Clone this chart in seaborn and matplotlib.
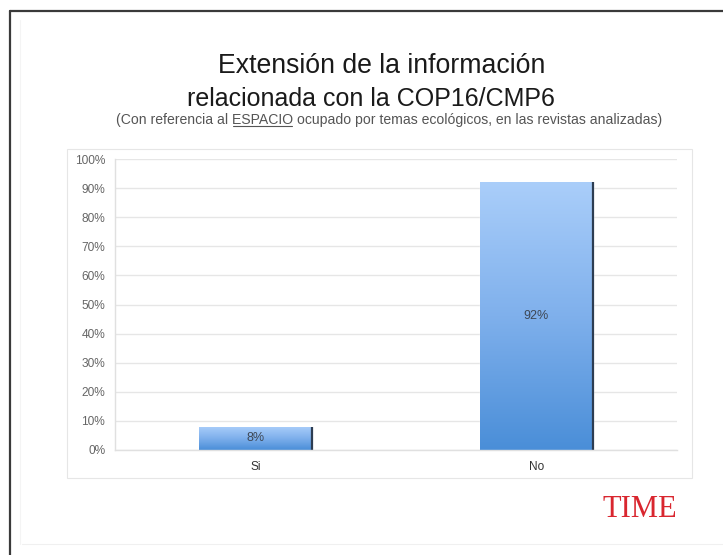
import numpy as np
import pandas as pd
import seaborn as sns
import matplotlib.pyplot as plt
from matplotlib.colors import LinearSegmentedColormap
from matplotlib.lines import Line2D
from matplotlib.patches import Rectangle

# ---- data ----
categories = ["Si", "No"]
values = [8, 92]
value_labels = ["8%", "92%"]
yticks = [0, 10, 20, 30, 40, 50, 60, 70, 80, 90, 100]
ytick_labels = [f"{t}%" for t in yticks]
title_line1 = "Extensión de la información"
title_line2 = "relacionada con la COP16/CMP6"
sub_pre = "(Con referencia al "
sub_mid = "ESPACIO"
sub_post = " ocupado por temas ecológicos, en las revistas analizadas)"
brand = "TIME"

sns.set_theme(style="white")
plt.rcParams['font.family'] = ['Liberation Sans', 'DejaVu Sans']

W, H = 723, 555
fig = plt.figure(figsize=(W / 100, H / 100), dpi=100)
fig.patch.set_facecolor("white")

# slide frame
fig.add_artist(Line2D([10 / W, 1], [1 - 11 / H, 1 - 11 / H], transform=fig.transFigure,
                      color="#3a3a3a", lw=1.6))
fig.add_artist(Line2D([10 / W, 10 / W], [0, 1 - 11 / H], transform=fig.transFigure,
                      color="#3a3a3a", lw=1.6))
fig.add_artist(Line2D([22 / W, 1], [1 - 544 / H, 1 - 544 / H], transform=fig.transFigure,
                      color="#f0f0f0", lw=0.8))
fig.add_artist(Line2D([20 / W, 20 / W], [1 - 544 / H, 1 - 20 / H], transform=fig.transFigure,
                      color="#f4f4f4", lw=0.8))

# chart box
fig.add_artist(Rectangle((67 / W, 1 - 478 / H), 625 / W, 329 / H, transform=fig.transFigure,
                         fill=False, edgecolor="#e6e6e6", lw=0.8))

ax = fig.add_axes([115 / W, 1 - 450 / H, 562 / W, 291 / H])
df = pd.DataFrame({"cat": categories, "val": values})
sns.barplot(data=df, x="cat", y="val", ax=ax, width=0.40, color="#6fa6e6",
            saturation=1, zorder=2)
ax.set_facecolor("white")

cmap = LinearSegmentedColormap.from_list("g", ["#4a8ed8", "#7fb0ec", "#aacefa"])
grad = np.linspace(0, 1, 256).reshape(-1, 1)
for p in ax.patches:
    x0, y0 = p.get_x(), p.get_y()
    w, h = p.get_width(), p.get_height()
    im = ax.imshow(grad, extent=[x0, x0 + w, y0, y0 + h], origin="lower", cmap=cmap,
                   aspect="auto", zorder=2.1, interpolation="bicubic")
    im.set_clip_path(p)
    ax.vlines(x0 + w, y0, y0 + h, color="#2d3d52", lw=1.6, zorder=2.2)

for c in ax.containers:
    ax.bar_label(c, labels=value_labels, label_type="center", color="#3e4856",
                 fontsize=9, zorder=3)

ax.set_xlim(-0.5, 1.5)
ax.set_ylim(0, 100)
ax.set_yticks(yticks)
ax.set_yticklabels(ytick_labels)
ax.set_xlabel("")
ax.set_ylabel("")
ax.yaxis.grid(True, color="#e6e6e6", lw=1)
ax.set_axisbelow(True)
for s in ["top", "right"]:
    ax.spines[s].set_visible(False)
for s in ["left", "bottom"]:
    ax.spines[s].set_color("#e0e0e0")
    ax.spines[s].set_linewidth(1)
ax.tick_params(axis="y", length=0, pad=7, labelsize=8.6, labelcolor="#666666")
ax.tick_params(axis="x", length=0, pad=8, labelsize=8.6, labelcolor="#333333")

# titles
fig.text(382 / W, 1 - 73 / H, title_line1, ha="center", va="baseline", fontsize=19.2,
         color="#1a1a1a")
fig.text(371 / W, 1 - 106 / H, title_line2, ha="center", va="baseline", fontsize=18,
         color="#1a1a1a")

sub_fs = 10.1
sub_y = 1 - 124 / H
full = fig.text(389 / W, sub_y, sub_pre + sub_mid + sub_post, ha="center", va="baseline",
                fontsize=sub_fs, color="#555555")
fig.canvas.draw()
r = fig.canvas.get_renderer()
bb = full.get_window_extent(r)
t_pre = fig.text(0, 0, sub_pre, fontsize=sub_fs)
t_mid = fig.text(0, 0, sub_pre + sub_mid, fontsize=sub_fs)
w_pre = t_pre.get_window_extent(r).width
w_mid = t_mid.get_window_extent(r).width
t_pre.remove()
t_mid.remove()
ux0 = (bb.x0 + w_pre + 1) / W
ux1 = (bb.x0 + w_mid - 1) / W
uy = sub_y - 2.5 / H
fig.add_artist(Line2D([ux0, ux1], [uy, uy], transform=fig.transFigure, color="#555555", lw=0.8))

# brand
fig.text(640 / W, 1 - 517 / H, brand, ha="center", va="baseline", fontsize=22,
         color="#d9262f", family=["Liberation Serif", "DejaVu Serif"])

fig.savefig("out.png", dpi=100, facecolor="white")
